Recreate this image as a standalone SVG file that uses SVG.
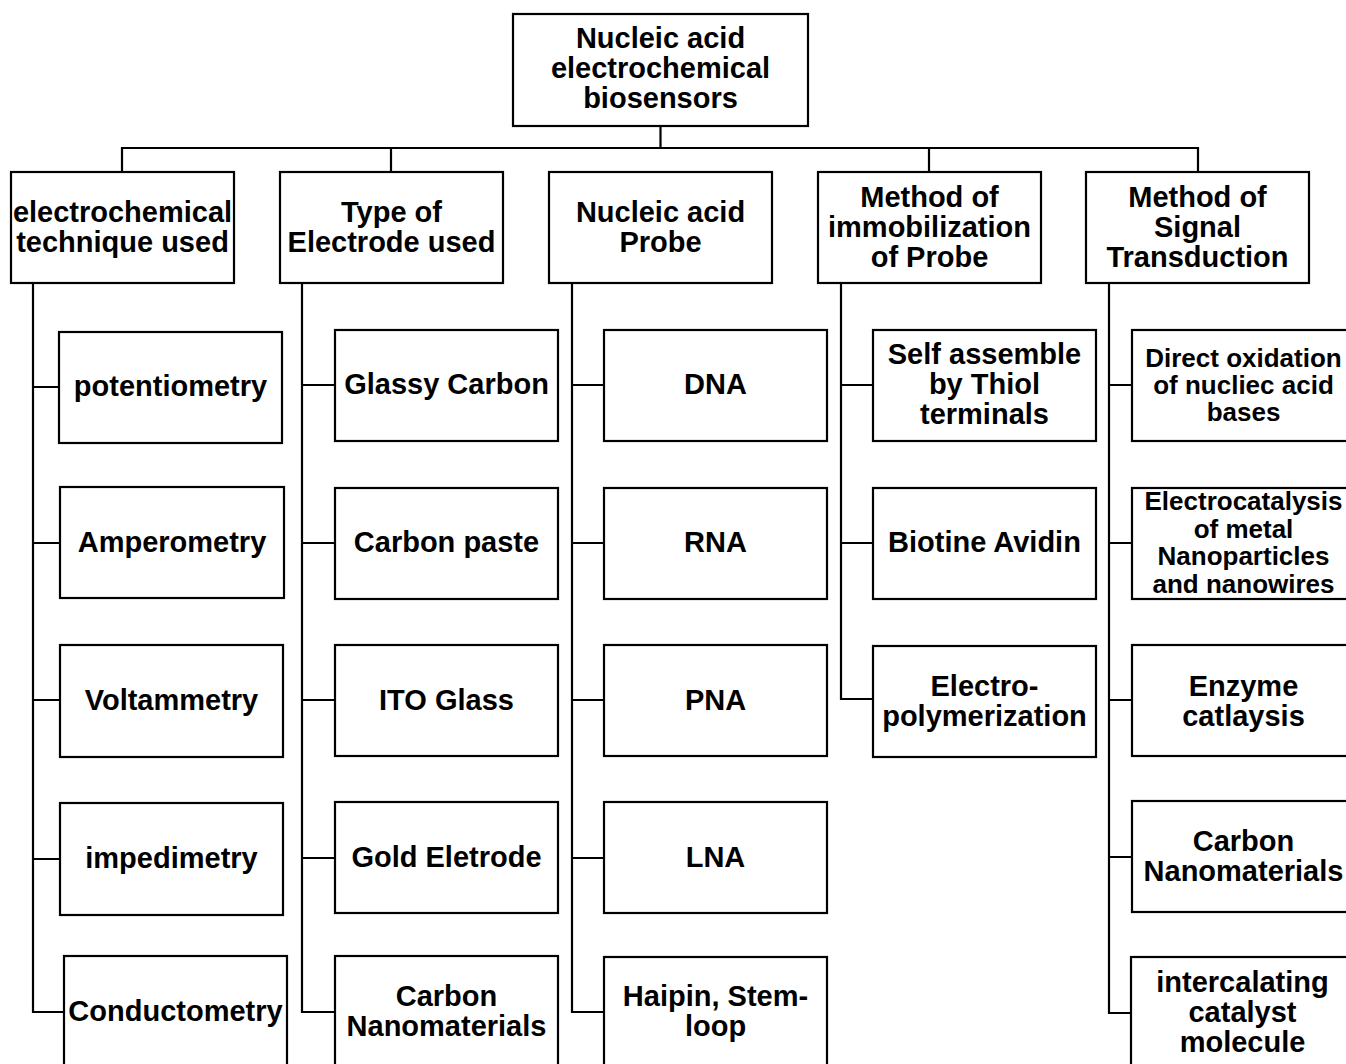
<svg xmlns="http://www.w3.org/2000/svg" width="1346" height="1064" viewBox="0 0 1346 1064">
<style>
.box{fill:#fff;stroke:#000;stroke-width:2.2}
.ln{fill:none;stroke:#000;stroke-width:2.2}
.t{font-family:"Liberation Sans",Arial,sans-serif;font-weight:bold;font-size:29px;fill:#000;text-anchor:middle;dominant-baseline:central}
.s{font-size:26px}
</style>
<rect width="1346" height="1064" fill="#fff"/>
<g id="connectors">
<path class="ln" d="M660.5 126V148M122 172V148H1198V172M391 148V172M929 148V172"/>
<path class="ln" d="M33 283V1012H64M33 387H59M33 543H60M33 700H60M33 859H60"/>
<path class="ln" d="M302 283V1012H335M302 385H335M302 543H335M302 700H335M302 858H335"/>
<path class="ln" d="M572 283V1012H604M572 385H604M572 543H604M572 700H604M572 858H604"/>
<path class="ln" d="M841 283V699H873M841 385H873M841 543H873"/>
<path class="ln" d="M1109 283V1013H1132M1109 385H1132M1109 543H1132M1109 700H1132M1109 857H1132"/>
</g>
<g id="root"><rect class="box" x="513" y="14" width="295" height="112"/>
<text class="t"><tspan x="660.5" y="38">Nucleic acid</tspan><tspan x="660.5" y="68">electrochemical</tspan><tspan x="660.5" y="98">biosensors</tspan></text></g>
<g id="cat1"><rect class="box" x="11" y="172" width="223" height="111"/>
<text class="t"><tspan x="122.5" y="212">electrochemical</tspan><tspan x="122.5" y="242">technique used</tspan></text></g>
<g id="cat2"><rect class="box" x="280" y="172" width="223" height="111"/>
<text class="t"><tspan x="391.5" y="212">Type of</tspan><tspan x="391.5" y="242">Electrode used</tspan></text></g>
<g id="cat3"><rect class="box" x="549" y="172" width="223" height="111"/>
<text class="t"><tspan x="660.5" y="212">Nucleic acid</tspan><tspan x="660.5" y="242">Probe</tspan></text></g>
<g id="cat4"><rect class="box" x="818" y="172" width="223" height="111"/>
<text class="t"><tspan x="929.5" y="197">Method of</tspan><tspan x="929.5" y="227">immobilization</tspan><tspan x="929.5" y="257">of Probe</tspan></text></g>
<g id="cat5"><rect class="box" x="1086" y="172" width="223" height="111"/>
<text class="t"><tspan x="1197.5" y="197">Method of</tspan><tspan x="1197.5" y="227">Signal</tspan><tspan x="1197.5" y="257">Transduction</tspan></text></g>

<g id="potentiometry"><rect class="box" x="59" y="332" width="223" height="111"/><text class="t" x="170.5" y="386">potentiometry</text></g>
<g id="amperometry"><rect class="box" x="60" y="487" width="224" height="111"/><text class="t" x="172" y="542">Amperometry</text></g>
<g id="voltammetry"><rect class="box" x="60" y="645" width="223" height="112"/><text class="t" x="171.5" y="700">Voltammetry</text></g>
<g id="impedimetry"><rect class="box" x="60" y="803" width="223" height="112"/><text class="t" x="171.5" y="858">impedimetry</text></g>
<g id="conductometry"><rect class="box" x="64" y="956" width="223" height="111"/><text class="t" x="175.5" y="1011">Conductometry</text></g>

<g id="glassy"><rect class="box" x="335" y="330" width="223" height="111"/><text class="t" x="446.5" y="384">Glassy Carbon</text></g>
<g id="paste"><rect class="box" x="335" y="488" width="223" height="111"/><text class="t" x="446.5" y="542">Carbon paste</text></g>
<g id="ito"><rect class="box" x="335" y="645" width="223" height="111"/><text class="t" x="446.5" y="700">ITO Glass</text></g>
<g id="gold"><rect class="box" x="335" y="802" width="223" height="111"/><text class="t" x="446.5" y="857">Gold Eletrode</text></g>
<g id="carbonnano1"><rect class="box" x="335" y="956" width="223" height="111"/><text class="t"><tspan x="446.5" y="996">Carbon</tspan><tspan x="446.5" y="1026">Nanomaterials</tspan></text></g>

<g id="dna"><rect class="box" x="604" y="330" width="223" height="111"/><text class="t" x="715.5" y="384">DNA</text></g>
<g id="rna"><rect class="box" x="604" y="488" width="223" height="111"/><text class="t" x="715.5" y="542">RNA</text></g>
<g id="pna"><rect class="box" x="604" y="645" width="223" height="111"/><text class="t" x="715.5" y="700">PNA</text></g>
<g id="lna"><rect class="box" x="604" y="802" width="223" height="111"/><text class="t" x="715.5" y="857">LNA</text></g>
<g id="haipin"><rect class="box" x="604" y="957" width="223" height="111"/><text class="t"><tspan x="715.5" y="996">Haipin, Stem-</tspan><tspan x="715.5" y="1026">loop</tspan></text></g>

<g id="selfassemble"><rect class="box" x="873" y="330" width="223" height="111"/><text class="t"><tspan x="984.5" y="354">Self assemble</tspan><tspan x="984.5" y="384">by Thiol</tspan><tspan x="984.5" y="414">terminals</tspan></text></g>
<g id="biotine"><rect class="box" x="873" y="488" width="223" height="111"/><text class="t" x="984.5" y="542">Biotine Avidin</text></g>
<g id="electropoly"><rect class="box" x="873" y="646" width="223" height="111"/><text class="t"><tspan x="984.5" y="686">Electro-</tspan><tspan x="984.5" y="716">polymerization</tspan></text></g>

<g id="directox"><rect class="box" x="1132" y="330" width="223" height="111"/><text class="t s"><tspan x="1243.5" y="358">Direct oxidation</tspan><tspan x="1243.5" y="385">of nucliec acid</tspan><tspan x="1243.5" y="412">bases</tspan></text></g>
<g id="electrocat"><rect class="box" x="1132" y="488" width="223" height="111"/><text class="t s"><tspan x="1243.5" y="501">Electrocatalysis</tspan><tspan x="1243.5" y="529">of metal</tspan><tspan x="1243.5" y="556">Nanoparticles</tspan><tspan x="1243.5" y="584">and nanowires</tspan></text></g>
<g id="enzyme"><rect class="box" x="1132" y="645" width="223" height="111"/><text class="t"><tspan x="1243.5" y="686">Enzyme</tspan><tspan x="1243.5" y="716">catlaysis</tspan></text></g>
<g id="carbonnano2"><rect class="box" x="1132" y="801" width="223" height="111"/><text class="t"><tspan x="1243.5" y="841">Carbon</tspan><tspan x="1243.5" y="871">Nanomaterials</tspan></text></g>
<g id="intercalating"><rect class="box" x="1131" y="957" width="223" height="111"/><text class="t"><tspan x="1242.5" y="982">intercalating</tspan><tspan x="1242.5" y="1012">catalyst</tspan><tspan x="1242.5" y="1042">molecule</tspan></text></g>
</svg>
